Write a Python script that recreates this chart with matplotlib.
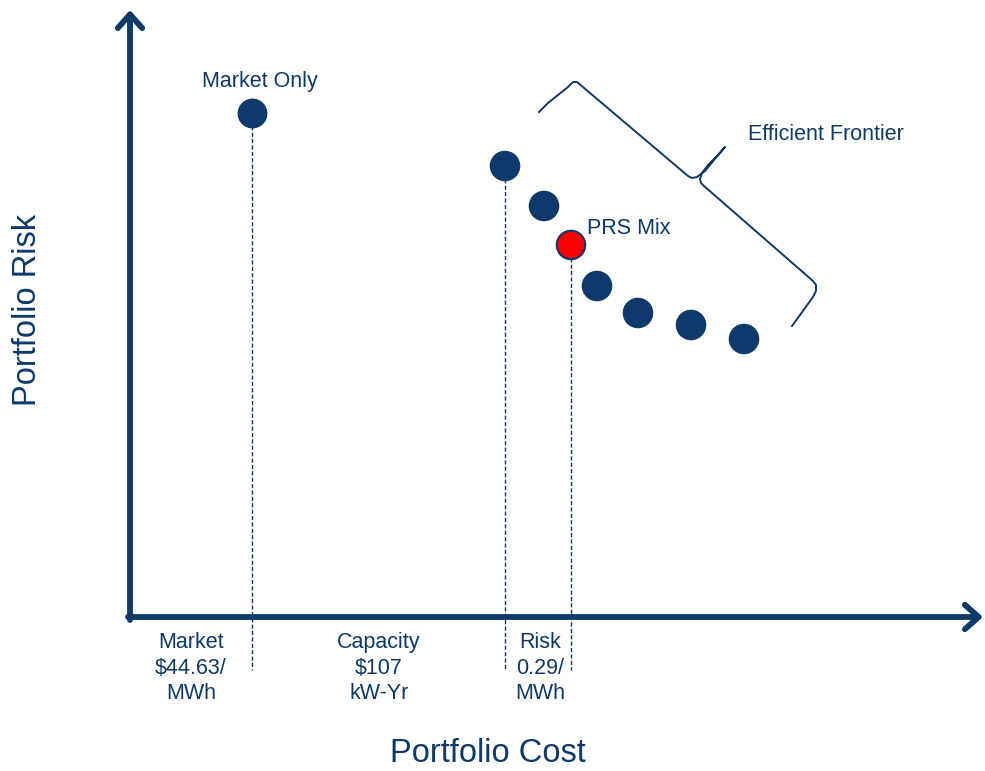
import matplotlib.pyplot as plt

plt.rcParams['font.family'] = ['Liberation Sans', 'DejaVu Sans']

navy = '#0d3a6a'

# market only portfolio (cost, risk) in chart units
market_cost = 122
market_risk = 504

# efficient frontier portfolios
frontier_cost = [375, 414, 441, 467, 508, 561, 614]
frontier_risk = [451, 411, 372, 331, 304, 292, 278]
prs_index = 2

# vertical guide lines drop to this level
guide_bottom = -53

# cost breakdown labels under the axis
cost_labels = ['Market\n$44.63/\nMWh', 'Capacity\n$107\nkW-Yr', 'Risk\n0.29/\nMWh']
cost_label_x = [61, 249, 410]

# brace around the frontier
brace_x = [409, 418, 428, 438, 443, 447, 558, 562, 567, 575, 584, 595,
           588, 578, 572, 570, 571, 574, 683, 686, 686, 683, 662]
brace_y = [505, 514, 522, 530, 535, 535, 441, 439, 440, 446, 457, 470,
           462, 452, 444, 438, 434, 431, 336, 332, 326, 320, 291]

fig = plt.figure(figsize=(9.85, 7.71), dpi=100)
ax = fig.add_axes([0, 0, 1, 1])
ax.set_xlim(-130, 855)
ax.set_ylim(-154, 617)
ax.axis('off')

# axes with arrow heads
arrow = dict(arrowstyle='->,head_length=0.45,head_width=0.4', lw=4.2, color=navy,
             mutation_scale=22, shrinkA=0, shrinkB=0, joinstyle='round', capstyle='round')
ax.annotate('', xy=(0, 607), xytext=(0, -3), arrowprops=arrow)
ax.annotate('', xy=(853, 0), xytext=(-2, 0), arrowprops=arrow)

# dashed drop lines
ax.plot([market_cost, market_cost], [market_risk, guide_bottom], ls=(0, (3, 1.6)), lw=1, color=navy, zorder=1)
for i in [0, prs_index]:
    ax.plot([frontier_cost[i], frontier_cost[i]], [frontier_risk[i], guide_bottom],
            ls=(0, (3, 1.6)), lw=1, color=navy, zorder=1)

# points
ax.scatter([market_cost], [market_risk], s=420, color=navy, zorder=3)
colors = [navy] * len(frontier_cost)
colors[prs_index] = '#ff0000'
ax.scatter(frontier_cost, frontier_risk, s=420, c=colors, edgecolors=navy, linewidths=1.5, zorder=3)

# brace
ax.plot(brace_x, brace_y, color=navy, lw=1.4, solid_joinstyle='round')

# labels
ax.text(market_cost + 8, market_risk + 32, 'Market Only', fontsize=15.5, color=navy, ha='center', va='center')
ax.text(frontier_cost[prs_index] + 16, frontier_risk[prs_index] + 17, 'PRS Mix', fontsize=15.5, color=navy,
        ha='left', va='center')
ax.text(618, 482, 'Efficient Frontier', fontsize=15.5, color=navy, ha='left', va='center')

for lab, x in zip(cost_labels, cost_label_x):
    ax.text(x, -51, lab, fontsize=15.5, color=navy, ha='center', va='center', linespacing=1.3)

ax.text(358, -136, 'Portfolio Cost', fontsize=23.5, color=navy, ha='center', va='center')
ax.text(-102, 307, 'Portfolio Risk', fontsize=23.5, color=navy, ha='center', va='center', rotation=90)

fig.savefig('out.png', dpi=100)
